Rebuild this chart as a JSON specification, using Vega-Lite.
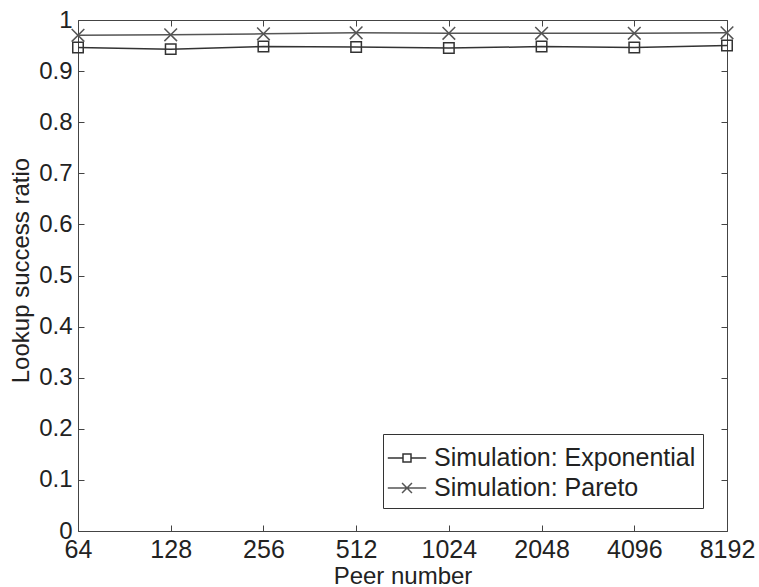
{
  "$schema": "https://vega.github.io/schema/vega-lite/v6.json",
  "width": 649,
  "height": 511,
  "autosize": {"type": "none"},
  "padding": {"left": 78, "top": 20, "right": 32, "bottom": 56},
  "background": "white",
  "config": {"view": {"stroke": null}, "font": "Liberation Sans"},
  "data": {
    "values": [
      {"series": "Simulation: Exponential", "peers": 64, "ratio": 0.946},
      {"series": "Simulation: Exponential", "peers": 128, "ratio": 0.943},
      {"series": "Simulation: Exponential", "peers": 256, "ratio": 0.948},
      {"series": "Simulation: Exponential", "peers": 512, "ratio": 0.947},
      {"series": "Simulation: Exponential", "peers": 1024, "ratio": 0.945},
      {"series": "Simulation: Exponential", "peers": 2048, "ratio": 0.948},
      {"series": "Simulation: Exponential", "peers": 4096, "ratio": 0.946},
      {"series": "Simulation: Exponential", "peers": 8192, "ratio": 0.950},
      {"series": "Simulation: Pareto", "peers": 64, "ratio": 0.970},
      {"series": "Simulation: Pareto", "peers": 128, "ratio": 0.971},
      {"series": "Simulation: Pareto", "peers": 256, "ratio": 0.973},
      {"series": "Simulation: Pareto", "peers": 512, "ratio": 0.975},
      {"series": "Simulation: Pareto", "peers": 1024, "ratio": 0.974},
      {"series": "Simulation: Pareto", "peers": 2048, "ratio": 0.974},
      {"series": "Simulation: Pareto", "peers": 4096, "ratio": 0.974},
      {"series": "Simulation: Pareto", "peers": 8192, "ratio": 0.975}
    ]
  },
  "layer": [
    {
      "mark": {"type": "line", "strokeWidth": 1.5},
      "encoding": {
        "x": {
          "field": "peers", "type": "quantitative",
          "scale": {"type": "log", "base": 2, "domain": [64, 8192], "nice": false},
          "axis": {
            "orient": "bottom", "values": [64, 128, 256, 512, 1024, 2048, 4096, 8192], "format": "d",
            "tickSize": -6, "labelPadding": 12, "labelFontSize": 25, "labelColor": "#222222", "labelFont": "Liberation Sans",
            "labelFlush": false, "labelOverlap": false, "labelBound": false,
            "title": "Peer number", "titleFontSize": 24, "titleFontWeight": "normal", "titleColor": "#222222", "titleFont": "Liberation Sans",
            "titleY": 52, "titleBaseline": "alphabetic",
            "domainColor": "#444444", "tickColor": "#444444", "grid": false
          }
        },
        "y": {
          "field": "ratio", "type": "quantitative",
          "scale": {"domain": [0, 1], "nice": false, "zero": false},
          "axis": {
            "orient": "left", "values": [0, 0.1, 0.2, 0.3, 0.4, 0.5, 0.6, 0.7, 0.8, 0.9, 1], "format": "~g",
            "tickSize": -6, "labelPadding": 12, "labelFontSize": 24, "labelColor": "#222222", "labelFont": "Liberation Sans",
            "labelOverlap": false, "labelFlush": false, "labelBound": false,
            "title": "Lookup success ratio", "titleFontSize": 24, "titleFontWeight": "normal", "titleColor": "#222222", "titleFont": "Liberation Sans",
            "titleX": -57, "titleY": 250, "titleBaseline": "middle", "titleAlign": "center", "titleAngle": 270,
            "domainColor": "#444444", "tickColor": "#444444", "grid": false
          }
        },
        "color": {
          "field": "series", "type": "nominal",
          "scale": {"domain": ["Simulation: Exponential", "Simulation: Pareto"], "range": ["#333333", "#555555"]},
          "legend": {
            "title": null, "orient": "none", "legendX": 305, "legendY": 414,
            "fillColor": "white", "strokeColor": "#333333", "padding": 7,
            "labelFontSize": 25, "labelColor": "#222222", "labelFont": "Liberation Sans", "labelOffset": 10, "labelLimit": 400,
            "symbolSize": 1024, "symbolStrokeWidth": 1.5, "rowPadding": 0, "symbolFillColor": "transparent",
            "encoding": {
              "symbols": {
                "shape": {"value": {"expr": "datum.value === 'Simulation: Exponential' ? 'M-1.2,0H-0.25M0.25,0H1.2M-0.25,-0.25H0.25V0.25H-0.25Z' : 'M-1.2,0H1.2M-0.31,-0.31L0.31,0.31M-0.31,0.31L0.31,-0.31'"}},
                "fill": {"value": "transparent"}
              }
            }
          }
        }
      }
    },
    {
      "transform": [{"filter": "datum.series === 'Simulation: Exponential'"}],
      "mark": {"type": "point", "filled": false, "strokeWidth": 1.5, "opacity": 1, "shape": "square", "size": 110, "color": "#333333"},
      "encoding": {
        "x": {
          "field": "peers", "type": "quantitative",
          "scale": {"type": "log", "base": 2, "domain": [64, 8192], "nice": false},
          "axis": {
            "orient": "top", "values": [64, 128, 256, 512, 1024, 2048, 4096, 8192],
            "labels": false, "title": null, "tickSize": -6,
            "domainColor": "#444444", "tickColor": "#444444", "grid": false
          }
        },
        "y": {
          "field": "ratio", "type": "quantitative",
          "scale": {"domain": [0, 1], "nice": false, "zero": false},
          "axis": {
            "orient": "right", "values": [0, 0.1, 0.2, 0.3, 0.4, 0.5, 0.6, 0.7, 0.8, 0.9, 1],
            "labels": false, "title": null, "tickSize": -6,
            "domainColor": "#444444", "tickColor": "#444444", "grid": false
          }
        }
      }
    },
    {
      "transform": [{"filter": "datum.series === 'Simulation: Pareto'"}],
      "mark": {"type": "point", "filled": false, "strokeWidth": 1.5, "opacity": 1, "shape": "M-1,-1L1,1M-1,1L1,-1", "size": 160, "color": "#555555"},
      "encoding": {
        "x": {"field": "peers", "type": "quantitative", "axis": null},
        "y": {"field": "ratio", "type": "quantitative", "axis": null}
      }
    }
  ],
  "resolve": {"axis": {"x": "independent", "y": "independent"}}
}
